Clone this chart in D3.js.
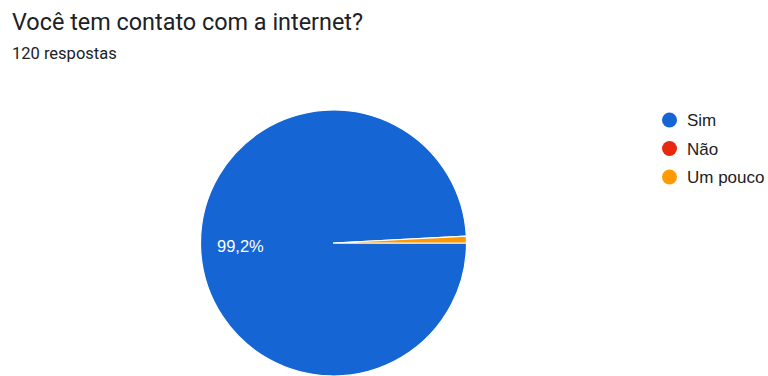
<!DOCTYPE html>
<html>
<head>
<meta charset="utf-8">
<script src="https://cdn.jsdelivr.net/npm/d3@7"></script>
<style>
  html, body { margin: 0; padding: 0; background: #ffffff; }
  svg { display: block; }
</style>
</head>
<body>
<svg id="chart" width="768" height="376"></svg>
<script>
// Survey answers: "Você tem contato com a internet?" (120 respostas)
const categories = ["Sim", "Não", "Um pouco"];
const counts = [119, 0, 1];
const sliceColors = ["#1565d4", "#e8280f", "#ff9a05"];
const titleText = "Você tem contato com a internet?";
const subtitleText = "120 respostas";

const svg = d3.select("#chart");
const total = d3.sum(counts);

svg.append("text")
  .attr("x", 12).attr("y", 30)
  .attr("font-family", "Roboto, Arial, sans-serif")
  .attr("font-size", 23.4)
  .attr("fill", "#202124")
  .text(titleText);

svg.append("text")
  .attr("x", 12).attr("y", 59)
  .attr("font-family", "Roboto, Arial, sans-serif")
  .attr("font-size", 16.5)
  .attr("fill", "#202124")
  .text(subtitleText);

// Pie starts at 3 o'clock and runs clockwise
const cx = 333.5, cy = 243, radius = 133;
const pie = d3.pie().sort(null)
  .startAngle(Math.PI / 2)
  .endAngle(Math.PI / 2 + 2 * Math.PI)
  .value(d => d.value);
const arc = d3.arc().innerRadius(0).outerRadius(radius);

const data = categories.map((c, i) => ({ name: c, value: counts[i], color: sliceColors[i] }));
const arcs = pie(data);

const g = svg.append("g").attr("transform", `translate(${cx},${cy})`);
g.selectAll("path.slice")
  .data(arcs.filter(d => d.data.value > 0))
  .join("path")
  .attr("class", "slice")
  .attr("d", arc)
  .attr("fill", d => d.data.color)
  .attr("stroke", "#ffffff")
  .attr("stroke-width", 1.2)
  .attr("stroke-linejoin", "round");

// Percentage label for the large slice
const fmt = v => (Math.round(v * 1000) / 10).toFixed(1).replace(".", ",") + "%";
const big = arcs[0];
svg.append("text")
  .attr("x", 217).attr("y", 251.5)
  .attr("font-family", "Arial, 'Liberation Sans', sans-serif")
  .attr("font-size", 16.5)
  .attr("fill", "#ffffff")
  .text(fmt(big.data.value / total));

// Legend
const legend = svg.append("g");
const rowY = d3.scalePoint().domain(categories).range([120, 177]);
const items = legend.selectAll("g.item").data(data).join("g")
  .attr("class", "item")
  .attr("transform", d => `translate(669.5,${rowY(d.name)})`);
items.append("circle").attr("r", 7.5).attr("fill", d => d.color);
items.append("text")
  .attr("x", 17.5).attr("y", 6)
  .attr("font-family", "Arial, 'Liberation Sans', sans-serif")
  .attr("font-size", 17)
  .attr("fill", "#222222")
  .text(d => d.name);
</script>
</body>
</html>
